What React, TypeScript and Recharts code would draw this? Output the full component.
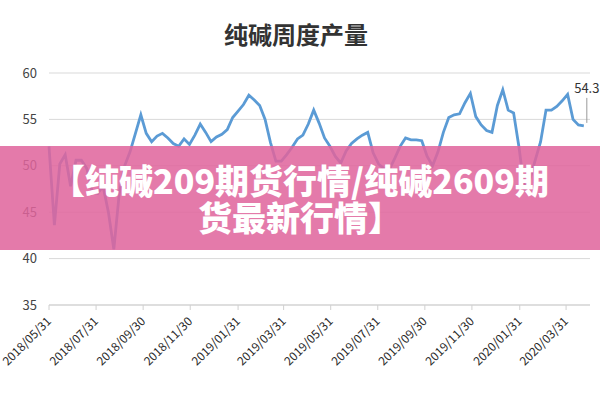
import React from "react";
import {
  LineChart,
  Line,
  XAxis,
  YAxis,
  CartesianGrid,
} from "recharts";

// 纯碱周度产量 (万吨), weekly from 2018/05/31
const startDate = "2018/05/31";
const output = [
  52.1, 43.6, 50.2, 51.2, 47.8, 50.6, 50.6, 49.7, 47.2, 47.0,
  47.8, 45.0, 41.0, 47.0, 50.0, 51.5, 53.5, 55.5, 53.5, 52.6,
  53.2, 53.5, 53.0, 52.4, 52.1, 52.9, 52.3, 53.3, 54.5, 53.6,
  52.6, 53.1, 53.4, 53.9, 55.2, 55.9, 56.6, 57.6, 57.1, 56.5,
  55.0, 52.5, 50.5, 50.5, 51.2, 52.0, 52.9, 53.3, 54.5, 56.0,
  54.6, 53.0, 52.1, 51.0, 50.3, 51.6, 52.4, 52.9, 53.3, 53.6,
  51.4, 50.2, 49.7, 49.6, 50.8, 52.1, 53.0, 52.8, 52.8, 52.7,
  51.0, 50.0, 51.5, 53.6, 55.2, 55.5, 55.6, 56.8, 57.8, 55.3,
  54.4, 53.8, 53.6, 56.5, 58.2, 56.0, 55.7, 52.0, 47.5, 48.5,
  50.6, 52.6, 56.0, 56.0, 56.4, 57.0, 57.7, 55.0, 54.4, 54.3,
];
const tickLabels = [
  "2018/05/31", "2018/07/31", "2018/09/30", "2018/11/30",
  "2019/01/31", "2019/03/31", "2019/05/31", "2019/07/31",
  "2019/09/30", "2019/11/30", "2020/01/31", "2020/03/31",
];
const yTicks = [35, 40, 45, 50, 55, 60];
const bannerLines = ["【纯碱209期货行情/纯碱2609期", "货最新行情】"];

const DAY = 86400000;
const toDay = (s: string) => {
  const [y, m, d] = s.split("/").map(Number);
  return Math.round((Date.UTC(y, m - 1, d) - Date.UTC(2018, 4, 31)) / DAY);
};
const labelFor = (day: number) => {
  const t = tickLabels.find((s) => toDay(s) === day);
  return t ?? "";
};

const data = output.map((v, i) => ({ day: toDay(startDate) + i * 7, v }));
const xTicks = tickLabels.map(toDay);

const DateTick = ({ x, y, payload }: any) => (
  <g transform={`translate(${x + 3},${y + 10})`}>
    <text
      x={0}
      y={0}
      textAnchor="end"
      transform="rotate(-45)"
      fill="#2a2a2a"
      fontSize={12}
    >
      {labelFor(payload.value)}
    </text>
  </g>
);

const lastLabel = (props: any) => {
  const { x, y, index } = props;
  if (index !== output.length - 1) return null;
  return (
    <g>
      <line x1={x + 3} y1={y - 28} x2={x + 3} y2={y - 3} stroke="#999" strokeWidth={1} />
      <text x={x + 3} y={y - 33} textAnchor="middle" fontSize={13} fill="#333">
        {output[output.length - 1]}
      </text>
    </g>
  );
};

export default function App() {
  return (
    <div
      style={{
        position: "absolute",
        left: 0,
        top: 0,
        width: 600,
        height: 400,
        background: "#fff",
        fontFamily: "'Noto Sans CJK SC', 'Noto Sans', sans-serif",
      }}
    >
      <div
        style={{
          position: "absolute",
          top: 18,
          left: 0,
          width: 592,
          textAlign: "center",
          fontSize: 24,
          fontWeight: 700,
          color: "#333",
          lineHeight: "32px",
        }}
      >
        纯碱周度产量
      </div>
      <LineChart
        width={600}
        height={400}
        data={data}
        margin={{ top: 73, right: 10, bottom: 35, left: 0 }}
      >
        <CartesianGrid vertical={false} stroke="#d9d9d9" />
        <XAxis
          dataKey="day"
          type="number"
          domain={[0, 701]}
          ticks={xTicks}
          interval={0}
          tick={<DateTick />}
          height={60}
          axisLine={{ stroke: "#d0d0d0" }}
          tickLine={{ stroke: "#d0d0d0" }}
          tickSize={5}
        />
        <YAxis
          domain={[35, 60]}
          ticks={yTicks}
          width={49}
          axisLine={false}
          tickLine={false}
          tickMargin={6}
          tick={{ fontSize: 13, fill: "#444" }}
        />
        <Line
          dataKey="v"
          stroke="#5b9bd5"
          strokeWidth={2.8}
          dot={false}
          isAnimationActive={false}
          label={lastLabel}
        />
      </LineChart>
      <div
        style={{
          position: "absolute",
          left: 0,
          top: 146,
          width: 600,
          height: 104,
          background: "rgba(224, 100, 156, 0.86)",
          display: "flex",
          flexDirection: "column",
          alignItems: "center",
          justifyContent: "center",
          color: "#fff",
          fontSize: 34,
          fontWeight: 900,
          lineHeight: "37px",
          whiteSpace: "nowrap",
        }}
      >
        {bannerLines.map((t) => (
          <div key={t}>{t}</div>
        ))}
      </div>
    </div>
  );
}
